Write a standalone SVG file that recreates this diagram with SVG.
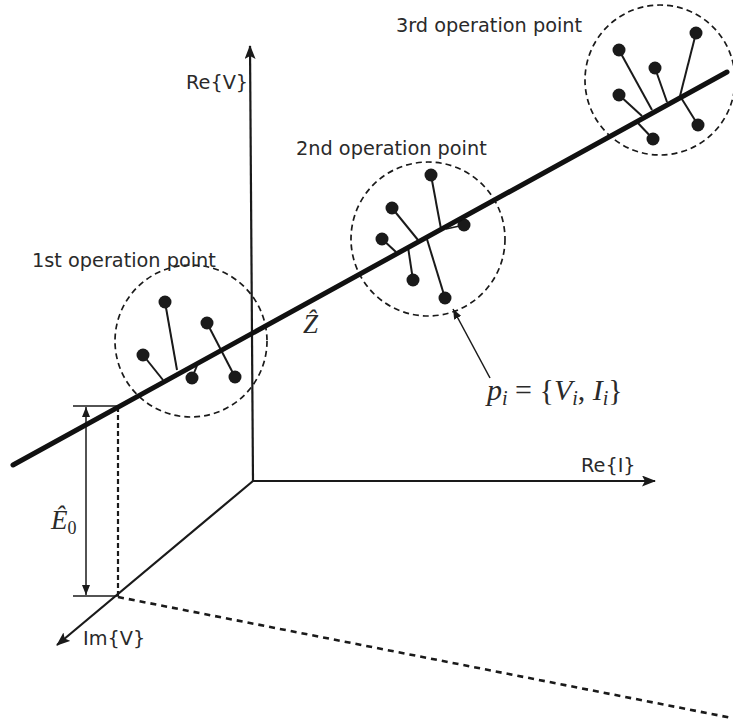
<svg xmlns="http://www.w3.org/2000/svg" width="733" height="720" viewBox="0 0 733 720">
<defs>
<marker id="ah" viewBox="0 0 14 11" refX="13" refY="5.5" markerWidth="14" markerHeight="11" markerUnits="userSpaceOnUse" orient="auto">
<path d="M0,0 L14,5.5 L0,11 L3,5.5 Z" fill="#1a1a1a"/>
</marker>
<marker id="ahs" viewBox="0 0 10 8" refX="10" refY="4" markerWidth="10" markerHeight="8" markerUnits="userSpaceOnUse" orient="auto-start-reverse">
<path d="M0,0 L10,4 L0,8 Z" fill="#1a1a1a"/>
</marker>
</defs>
<style>
.lbl{font-family:"DejaVu Sans","Liberation Sans",sans-serif;font-size:19.3px;fill:#2a2a2a}
.math{font-family:"Liberation Serif","DejaVu Serif",serif;font-style:italic;fill:#2a2a2a}
.ax{stroke:#1a1a1a;stroke-width:2.2;fill:none}
.thin{stroke:#1a1a1a;stroke-width:1.5;fill:none}
.circ{stroke:#1a1a1a;stroke-width:1.7;fill:none;stroke-dasharray:6 4}
.stem{stroke:#1a1a1a;stroke-width:2;fill:none}
.dot{fill:#1a1a1a}
</style>
<rect width="733" height="720" fill="#fff"/>
<g id="connectors">
<line class="ax" x1="253" y1="482" x2="250" y2="46" marker-end="url(#ah)"/>
<line class="ax" x1="252" y1="481" x2="655" y2="481" marker-end="url(#ah)"/>
<line class="ax" x1="253" y1="481" x2="57" y2="645" marker-end="url(#ah)"/>
<line x1="118" y1="597" x2="732" y2="718" stroke="#1a1a1a" stroke-width="2.6" stroke-dasharray="6 5"/>
<line x1="118" y1="407" x2="118" y2="596" stroke="#1a1a1a" stroke-width="2.2" stroke-dasharray="5 3"/>
<line class="thin" x1="73" y1="406" x2="118" y2="406"/>
<line class="thin" x1="73" y1="596" x2="118" y2="596"/>
<line class="thin" x1="86" y1="407" x2="86" y2="595" marker-start="url(#ahs)" marker-end="url(#ahs)"/>
<line class="thin" x1="490" y1="378" x2="453" y2="309" marker-end="url(#ahs)"/>
</g>
<g id="op1">
<circle class="circ" cx="191" cy="341" r="76"/>
<line class="stem" x1="165" y1="302" x2="177" y2="370"/>
<line class="stem" x1="207" y1="323" x2="235" y2="377"/>
<line class="stem" x1="143" y1="355" x2="163" y2="380"/>
<line class="stem" x1="192" y1="378" x2="198" y2="363"/>
<circle class="dot" cx="165" cy="302" r="6.5"/>
<circle class="dot" cx="207" cy="323" r="6.5"/>
<circle class="dot" cx="143" cy="355" r="6.5"/>
<circle class="dot" cx="192" cy="378" r="6.5"/>
<circle class="dot" cx="235" cy="377" r="6.5"/>
</g>
<g id="op2">
<circle class="circ" cx="428" cy="239" r="77"/>
<line class="stem" x1="431" y1="175" x2="441" y2="229"/>
<line class="stem" x1="392" y1="208" x2="418" y2="240"/>
<line class="stem" x1="382" y1="239" x2="396" y2="252"/>
<line class="stem" x1="413" y1="280" x2="408" y2="247"/>
<line class="stem" x1="445" y1="298" x2="426" y2="236"/>
<line class="thin" x1="464" y1="225" x2="446" y2="229"/>
<circle class="dot" cx="431" cy="175" r="6.5"/>
<circle class="dot" cx="392" cy="208" r="6.5"/>
<circle class="dot" cx="382" cy="239" r="6.5"/>
<circle class="dot" cx="413" cy="280" r="6.5"/>
<circle class="dot" cx="445" cy="298" r="6.5"/>
<circle class="dot" cx="464" cy="225" r="6.5"/>
</g>
<g id="op3">
<circle class="circ" cx="660" cy="80" r="75"/>
<line class="stem" x1="696" y1="33" x2="680" y2="96"/>
<line class="stem" x1="619" y1="50" x2="652" y2="110"/>
<line class="stem" x1="655" y1="68" x2="667" y2="102"/>
<line class="stem" x1="619" y1="95" x2="642" y2="116"/>
<line class="stem" x1="653" y1="139" x2="637" y2="122"/>
<line class="stem" x1="698" y1="125" x2="680" y2="96"/>
<circle class="dot" cx="696" cy="33" r="6.5"/>
<circle class="dot" cx="619" cy="50" r="6.5"/>
<circle class="dot" cx="655" cy="68" r="6.5"/>
<circle class="dot" cx="619" cy="95" r="6.5"/>
<circle class="dot" cx="653" cy="139" r="6.5"/>
<circle class="dot" cx="698" cy="125" r="6.5"/>
</g>
<g id="fit-line">
<line x1="13" y1="465" x2="727" y2="72" stroke="#111" stroke-width="5" stroke-linecap="round"/>
</g>
<g id="labels">
<text class="lbl" x="396" y="32">3rd operation point</text>
<text class="lbl" x="296" y="155">2nd operation point</text>
<text class="lbl" x="32" y="267">1st operation point</text>
<text class="lbl" x="186" y="89">Re{V}</text>
<text class="lbl" x="581" y="472">Re{I}</text>
<text class="lbl" x="83" y="645">Im{V}</text>
<text class="math" x="303" y="333" font-size="27">Ẑ</text>
<text class="math" x="51" y="529" font-size="27">Ê<tspan font-style="normal" font-size="18" dy="5">0</tspan></text>
<text class="math" x="487" y="400" font-size="30">p<tspan font-size="20" dy="5">i</tspan><tspan font-style="normal" dy="-5"> = {</tspan>V<tspan font-size="20" dy="5">i</tspan><tspan font-style="normal" dy="-5">, </tspan>I<tspan font-size="20" dy="5">i</tspan><tspan font-style="normal" dy="-5">}</tspan></text>
</g>
</svg>
